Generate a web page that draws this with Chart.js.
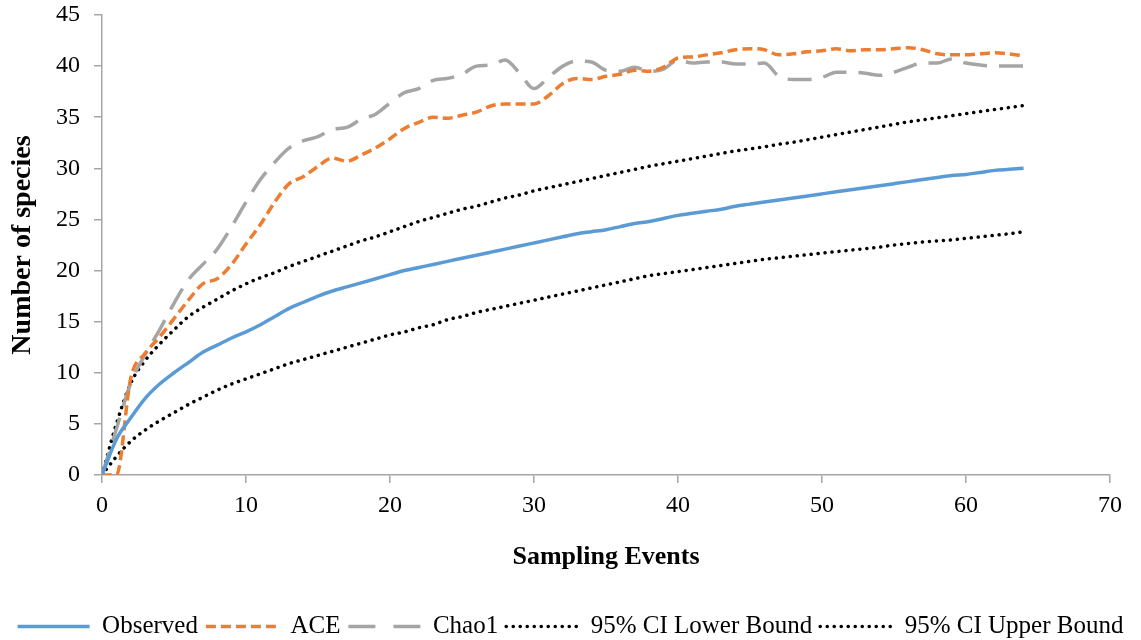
<!DOCTYPE html>
<html>
<head>
<meta charset="utf-8">
<title>Species accumulation curves</title>
<script src="https://cdn.jsdelivr.net/npm/chart.js@4.4.1/dist/chart.umd.min.js"></script>
<style>
  html, body { margin:0; padding:0; background:#fff; }
  #wrap { width:1141px; height:640px; position:relative; }
</style>
</head>
<body>
<div id="wrap"><canvas id="accChart"></canvas></div>
<script>
// sampling events (x) and the five curves
const events = [0,1,2,3,4,5,6,7,8,9,10,11,12,13,14,15,16,17,18,19,20,21,22,23,24,25,26,27,28,29,30,31,32,
  33,34,35,36,37,38,39,40,41,42,43,44,45,46,47,48,49,50,51,52,53,54,55,56,57,58,59,60,61,62,63,64];

const observed = [0,3.5,5.6,7.5,8.9,10.0,11.0,12.0,12.7,13.4,14.0,14.7,15.5,16.3,16.9,17.5,18.0,18.4,18.8,19.2,19.6,
  20.0,20.3,20.6,20.9,21.2,21.5,21.8,22.1,22.4,22.7,23.0,23.3,23.6,23.8,24.0,24.3,24.6,24.8,25.1,25.4,
  25.6,25.8,26.0,26.3,26.5,26.7,26.9,27.1,27.3,27.5,27.7,27.9,28.1,28.3,28.5,28.7,28.9,29.1,29.3,29.4,
  29.6,29.8,29.9,30.0];

const ace = [0,0,9.5,11.9,13.5,15.3,17.1,18.7,19.2,20.6,22.6,24.5,26.7,28.5,29.2,30.2,31.0,30.7,31.3,32.0,32.9,
  33.9,34.5,35.0,34.9,35.2,35.5,36.1,36.3,36.3,36.3,37.1,38.3,38.8,38.7,39.0,39.2,39.6,39.5,39.9,40.8,
  40.9,41.1,41.3,41.6,41.7,41.6,41.1,41.2,41.4,41.5,41.7,41.5,41.6,41.6,41.7,41.8,41.6,41.2,41.1,41.1,
  41.2,41.3,41.2,41.0];

const chao1 = [0,4.5,9.0,11.8,14.2,16.8,19.1,20.6,22.1,24.3,26.7,28.9,30.6,32.0,32.7,33.1,33.8,34.0,34.8,35.3,36.4,
  37.4,37.8,38.6,38.8,39.2,40.0,40.1,40.6,39.3,37.8,38.9,40.0,40.5,40.4,39.6,39.5,39.9,39.5,39.7,40.6,
  40.3,40.4,40.4,40.2,40.2,40.3,39.0,38.7,38.7,38.9,39.4,39.4,39.3,39.1,39.4,39.9,40.3,40.3,40.7,40.3,
  40.1,40.0,40.0,40.0];

const ciLower = [0,1.8,3.3,4.4,5.3,6.1,6.9,7.6,8.3,8.9,9.4,9.9,10.4,10.9,11.3,11.7,12.1,12.5,12.9,13.3,13.7,
  14.0,14.4,14.7,15.2,15.5,15.9,16.2,16.5,16.8,17.1,17.4,17.7,18.0,18.3,18.6,18.9,19.2,19.5,19.7,19.9,
  20.1,20.3,20.5,20.7,20.9,21.1,21.25,21.4,21.55,21.7,21.85,22.0,22.15,22.3,22.5,22.65,22.8,22.9,23.0,23.15,
  23.3,23.45,23.6,23.8];

const ciUpper = [0,5.0,9.0,11.2,12.8,14.2,15.5,16.4,17.2,18.0,18.7,19.3,19.8,20.4,20.9,21.4,21.9,22.4,22.9,23.3,23.8,
  24.3,24.8,25.2,25.6,26.0,26.3,26.7,27.1,27.4,27.8,28.1,28.4,28.7,29.0,29.3,29.6,29.9,30.2,30.45,30.7,
  30.95,31.2,31.45,31.7,31.9,32.1,32.35,32.55,32.8,33.05,33.3,33.55,33.8,34.05,34.3,34.55,34.75,34.95,35.15,35.35,
  35.55,35.75,35.95,36.15];

const xTicks = [0,10,20,30,40,50,60,70];
const yTicks = [0,5,10,15,20,25,30,35,40,45];

(function(){
  'use strict';

  const serif = "'Liberation Serif', 'Times New Roman', serif";
  const axisGrey = '#a6a6a6';

  function pts(arr){ return arr.map((y,i) => ({ x: events[i], y: y })); }

  function series(label, arr, color, dash, cap, keyDash){
    return {
      label: label,
      data: pts(arr),
      borderColor: color,
      backgroundColor: color,
      borderWidth: 3.5,
      borderDash: dash,
      borderCapStyle: cap || 'butt',
      keyDash: keyDash || dash,   // dash used for the short legend sample
      pointRadius: 0,
      pointHoverRadius: 0,
      cubicInterpolationMode: 'monotone',
      fill: false
    };
  }

  // legend entries: short line samples that keep each dataset's dash pattern
  function legendItems(chart){
    return chart.data.datasets.map((ds, i) => ({
      text: ds.label,
      datasetIndex: i,
      fillStyle: ds.borderColor,
      strokeStyle: ds.borderColor,
      fontColor: '#000',
      lineWidth: ds.borderWidth,
      lineDash: ds.keyDash,
      lineCap: ds.borderCapStyle,
      pointStyle: 'line',
      hidden: false
    }));
  }

  const ctx = document.getElementById('accChart').getContext('2d');

  new Chart(ctx, {
    type: 'line',
    data: {
      datasets: [
        series('Observed', observed, '#5b9bd5', []),
        series('ACE', ace, '#ed7d31', [10,5]),
        series('Chao1', chao1, '#a5a5a5', [24,12], null, [27,18]),
        series('95% CI Lower Bound', ciLower, '#000000', [0.1,6.9], 'round'),
        series('95% CI Upper Bound', ciUpper, '#000000', [0.1,6.9], 'round')
      ]
    },
    options: {
      responsive: true, maintainAspectRatio: false, animation: false,
      layout: { padding: { top: 15, right: 0, bottom: -9, left: 0 } },
      plugins: {
        tooltip: { enabled: false },
        legend: {
          position: 'bottom',
          labels: {
            usePointStyle: true,
            pointStyle: 'line',
            pointStyleWidth: 72,
            padding: 8,
            color: '#000',
            font: { family: serif, size: 25 },
            generateLabels: legendItems
          }
        }
      },
      scales: {
        x: {
          type: 'linear', min: 0, max: 70,
          afterFit: s => { s.height = 131; s.paddingRight = 31; },
          afterBuildTicks: s => { s.ticks = xTicks.map(v => ({ value: v })); },
          border: { color: axisGrey, width: 1.5 },
          grid: { drawOnChartArea: false, drawTicks: true, tickLength: 8, color: axisGrey, lineWidth: 1.5 },
          ticks: { color: '#000', padding: 8, font: { family: serif, size: 24 } },
          title: {
            display: true, text: 'Sampling Events', color: '#000',
            font: { family: serif, size: 26, weight: 'bold' },
            padding: { top: 0, bottom: 33 }
          }
        },
        y: {
          min: 0, max: 45,
          afterFit: s => { s.width = 102; s.paddingTop = 0; },
          afterBuildTicks: s => { s.ticks = yTicks.map(v => ({ value: v })); },
          border: { color: axisGrey, width: 1.5 },
          grid: { drawOnChartArea: false, drawTicks: true, tickLength: 8, color: axisGrey, lineWidth: 1.5 },
          ticks: { color: '#000', padding: 14, font: { family: serif, size: 24 } },
          title: {
            display: true, text: 'Number of species', color: '#000',
            font: { family: serif, size: 28, weight: 'bold' },
            padding: { top: 6, bottom: 0 }
          }
        }
      }
    }
  });
})();
</script>
</body>
</html>
